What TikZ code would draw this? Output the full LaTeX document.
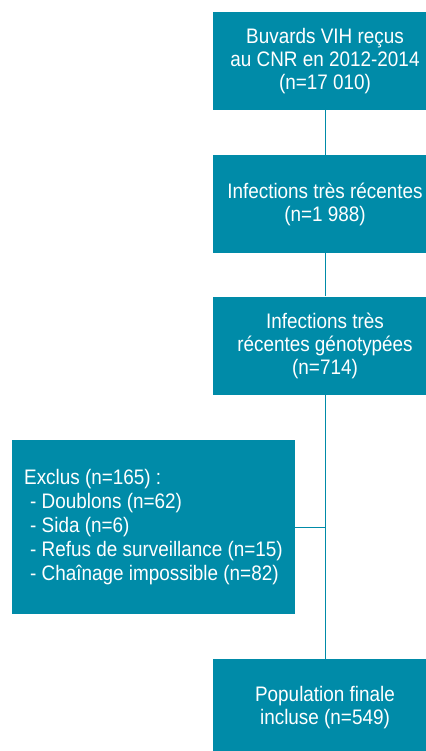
\documentclass[tikz,border=0pt]{standalone}
\usepackage{fontspec}
\newfontfamily\condsans[FakeStretch=0.9]{Liberation Sans}
\usetikzlibrary{calc}

\definecolor{flowteal}{RGB}{0,139,168}

\tikzset{
    flowbox/.style={fill=flowteal, text=white, inner sep=0pt, align=center,
        minimum width=224pt, minimum height=98pt,
        font=\condsans\fontsize{21}{23}\selectfont},
    exclbox/.style={fill=flowteal, text=white, inner sep=0pt,
        align=left, minimum width=283pt, minimum height=174pt,
        font=\condsans\fontsize{21}{24}\selectfont},
    flowline/.style={draw=flowteal, line width=1pt}
}

\begin{document}
\begin{tikzpicture}[x=1pt, y=1pt]

%% column of the main boxes
\def\mainCol{325}

\useasboundingbox (0,0) rectangle (425,-751);

    \node[flowbox] (recus) at (\mainCol, -61) {Buvards VIH reçus\\au CNR en 2012-2014\\(n=17 010)};
    \node[flowbox] (recentes) at (\mainCol, -204) {Infections très récentes\\(n=1 988)};
    \node[flowbox] (genotypees) at (\mainCol, -345.5) {Infections très\\récentes génotypées\\(n=714)};
    \node[flowbox] (finale) at (\mainCol, -708) {Population finale\\incluse (n=549)};

    %% excluded
    \node[exclbox] (exclus) at (153.5, -527) {Exclus (n=165) :\\
        \hspace*{6pt}- Doublons (n=62)\\
        \hspace*{6pt}- Sida (n=6)\\
        \hspace*{6pt}- Refus de surveillance (n=15)\\
        \hspace*{6pt}- Chaînage impossible (n=82)};

    \draw[flowline] (recus.south) -- (recentes.north);
    \draw[flowline] (recentes.south) -- (genotypees.north);
    \draw[flowline] (genotypees.south) -- (finale.north);

    \coordinate (joint) at (exclus.east -| genotypees.south);
    \draw[flowline] (exclus.east) -- (joint);

\end{tikzpicture}
\end{document}
